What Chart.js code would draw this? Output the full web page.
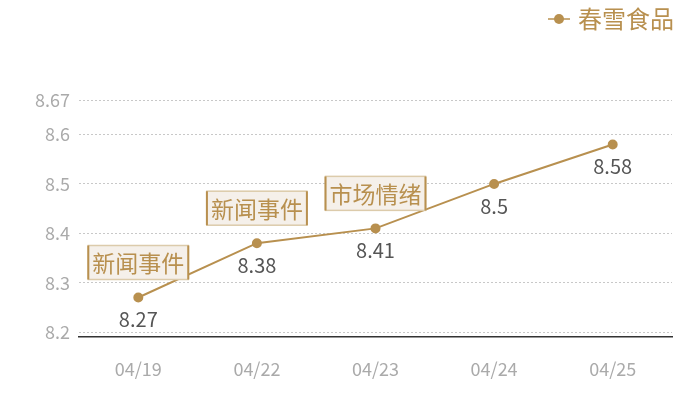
<!DOCTYPE html>
<html><head><meta charset="utf-8">
<script src="https://cdn.jsdelivr.net/npm/chart.js@4"></script>
<style>html,body{margin:0;padding:0;background:#fff}#wrap{width:700px;height:400px}</style>
</head><body><div id="wrap"><canvas id="c"></canvas></div>
<script>
const categories = ['04/19','04/22','04/23','04/24','04/25'];
const values = [8.27, 8.38, 8.41, 8.5, 8.58];
const eventLabels = ['新闻事件','新闻事件','市场情绪', null, null];
const yTicks = [8.2, 8.3, 8.4, 8.5, 8.6, 8.67];
const seriesName = '春雪食品';
const COLOR = '#b8904f';
const FONT = '"Noto Sans CJK SC","Noto Sans",sans-serif';

const overlay = {
  id: 'overlay',
  afterDatasetsDraw(chart) {
    const ctx = chart.ctx;
    const meta = chart.getDatasetMeta(0);
    ctx.save();
    // value labels
    ctx.font = '20px ' + FONT;
    ctx.fillStyle = '#555';
    ctx.textAlign = 'center';
    ctx.textBaseline = 'middle';
    meta.data.forEach((pt, i) => {
      ctx.fillText(String(values[i]), pt.x, pt.y + 22);
    });
    // event boxes
    ctx.font = '23px ' + FONT;
    meta.data.forEach((pt, i) => {
      const t = eventLabels[i];
      if (!t) return;
      const w = ctx.measureText(t).width + 8;
      const h = 34;
      const x = pt.x - w / 2, y = pt.y - 35 - h / 2;
      ctx.fillStyle = '#f5f0ea';
      ctx.fillRect(x, y, w, h);
      ctx.strokeStyle = '#dccbab';
      ctx.lineWidth = 1.5;
      ctx.strokeRect(x, y, w, h);
      ctx.strokeStyle = COLOR;
      ctx.lineWidth = 2;
      ctx.beginPath();
      ctx.moveTo(x, y); ctx.lineTo(x, y + h);
      ctx.moveTo(x + w, y); ctx.lineTo(x + w, y + h);
      ctx.stroke();
      ctx.fillStyle = COLOR;
      ctx.fillText(t, pt.x, pt.y - 35 + 1);
    });
    // legend
    ctx.font = '24px ' + FONT;
    ctx.textAlign = 'left';
    const tw = ctx.measureText(seriesName).width;
    const tx = 674 - tw;
    ctx.fillStyle = COLOR;
    ctx.fillText(seriesName, tx, 19);
    ctx.strokeStyle = COLOR;
    ctx.lineWidth = 1.5;
    ctx.beginPath();
    ctx.moveTo(tx - 30, 19); ctx.lineTo(tx - 8, 19);
    ctx.stroke();
    ctx.beginPath();
    ctx.arc(tx - 19, 19, 5, 0, Math.PI * 2);
    ctx.fill();
    ctx.restore();
  }
};

new Chart(document.getElementById('c'), {
  type: 'line',
  data: {
    labels: categories,
    datasets: [{
      label: seriesName,
      data: values,
      borderColor: COLOR,
      backgroundColor: COLOR,
      borderWidth: 2,
      pointRadius: 4,
      pointHoverRadius: 4,
      tension: 0
    }]
  },
  options: {
    responsive: true,
    maintainAspectRatio: false,
    animation: false,
    layout: { padding: { top: 100, right: 28, left: 0, bottom: 0 } },
    plugins: { legend: { display: false }, tooltip: { enabled: false } },
    scales: {
      x: {
        offset: true,
        grid: { display: false, drawTicks: false },
        border: { display: true, color: '#333', width: 1.5 },
        ticks: { color: '#aaa', font: { size: 18, family: FONT }, padding: 21 },
        afterFit(s) { s.height = 63; }
      },
      y: {
        min: 8.19,
        max: 8.67,
        afterBuildTicks(s) { s.ticks = yTicks.map(v => ({ value: v })); },
        grid: { color: '#c8c8c8', drawTicks: false },
        border: { display: false, dash: [2, 2] },
        ticks: { color: '#aaa', font: { size: 18, family: FONT }, padding: 9,
          callback: v => String(v) },
        afterFit(s) { s.width = 79; }
      }
    }
  },
  plugins: [overlay]
});
</script></body></html>
